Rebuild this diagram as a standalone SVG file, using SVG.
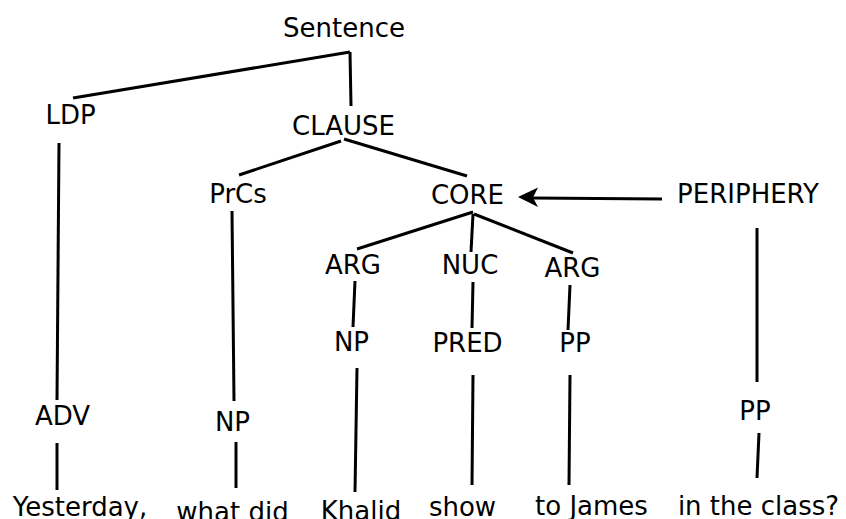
<svg xmlns="http://www.w3.org/2000/svg" width="846" height="519" viewBox="0 0 846 519">
  <style>
    text { font-family: "DejaVu Sans", "Liberation Sans", sans-serif; font-size: 26px; fill: #000; text-anchor: middle; }
    .edge { stroke: #000; stroke-width: 3; fill: none; stroke-linecap: butt; }
  </style>
  <rect width="846" height="519" fill="#fff"/>

  <!-- tree edges -->
  <g id="connectors">
    <line class="edge" x1="350" y1="52" x2="73" y2="98"/>
    <line class="edge" x1="350" y1="52" x2="351" y2="106"/>
    <line class="edge" x1="59" y1="143" x2="57" y2="400"/>
    <line class="edge" x1="341" y1="141" x2="239" y2="175"/>
    <line class="edge" x1="344" y1="139" x2="467" y2="176"/>
    <line class="edge" x1="232" y1="211" x2="234" y2="401"/>
    <line class="edge" x1="57" y1="443" x2="57" y2="490"/>
    <line class="edge" x1="236" y1="442" x2="236" y2="488"/>
    <line class="edge" x1="473" y1="212" x2="357" y2="249"/>
    <line class="edge" x1="473" y1="214" x2="471" y2="252"/>
    <line class="edge" x1="474" y1="214" x2="573" y2="253"/>
    <line class="edge" x1="355" y1="281" x2="353" y2="327"/>
    <line class="edge" x1="473" y1="282" x2="472" y2="328"/>
    <line class="edge" x1="570" y1="285" x2="568" y2="330"/>
    <line class="edge" x1="357" y1="368" x2="355" y2="492"/>
    <line class="edge" x1="473" y1="375" x2="472" y2="485"/>
    <line class="edge" x1="570" y1="375" x2="569" y2="485"/>
    <line class="edge" x1="757" y1="228" x2="757" y2="382"/>
    <line class="edge" x1="759" y1="433" x2="757" y2="478"/>
    <!-- periphery modifies the core -->
    <line class="edge" x1="662" y1="199" x2="532" y2="198"/>
    <path d="M518,197 L538,187.5 L533,197.5 L538,207 Z" fill="#000"/>
  </g>

  <g id="sentence"><text x="344" y="37">Sentence</text></g>
  <g id="ldp"><text x="70.5" y="124">LDP</text></g>
  <g id="clause"><text x="343.5" y="135">CLAUSE</text></g>
  <g id="prcs"><text x="238" y="203">PrCs</text></g>
  <g id="core"><text x="467.5" y="204">CORE</text></g>
  <g id="periphery"><text x="748" y="203">PERIPHERY</text></g>
  <g id="arg1"><text x="353" y="274">ARG</text></g>
  <g id="nuc"><text x="470" y="274">NUC</text></g>
  <g id="arg2"><text x="572.5" y="277">ARG</text></g>
  <g id="np1"><text x="351.5" y="351">NP</text></g>
  <g id="pred"><text x="467.5" y="352">PRED</text></g>
  <g id="pp1"><text x="575" y="352">PP</text></g>
  <g id="adv"><text x="62.5" y="425">ADV</text></g>
  <g id="np2"><text x="232.5" y="431">NP</text></g>
  <g id="pp2"><text x="755" y="420">PP</text></g>
  <g id="w-yesterday"><text x="80" y="516">Yesterday,</text></g>
  <g id="w-whatdid"><text x="232.5" y="521">what did</text></g>
  <g id="w-khalid"><text x="361" y="520">Khalid</text></g>
  <g id="w-show"><text x="462.5" y="516">show</text></g>
  <g id="w-tojames"><text x="591.5" y="515">to James</text></g>
  <g id="w-inclass"><text x="758.5" y="515">in the class?</text></g>
</svg>
